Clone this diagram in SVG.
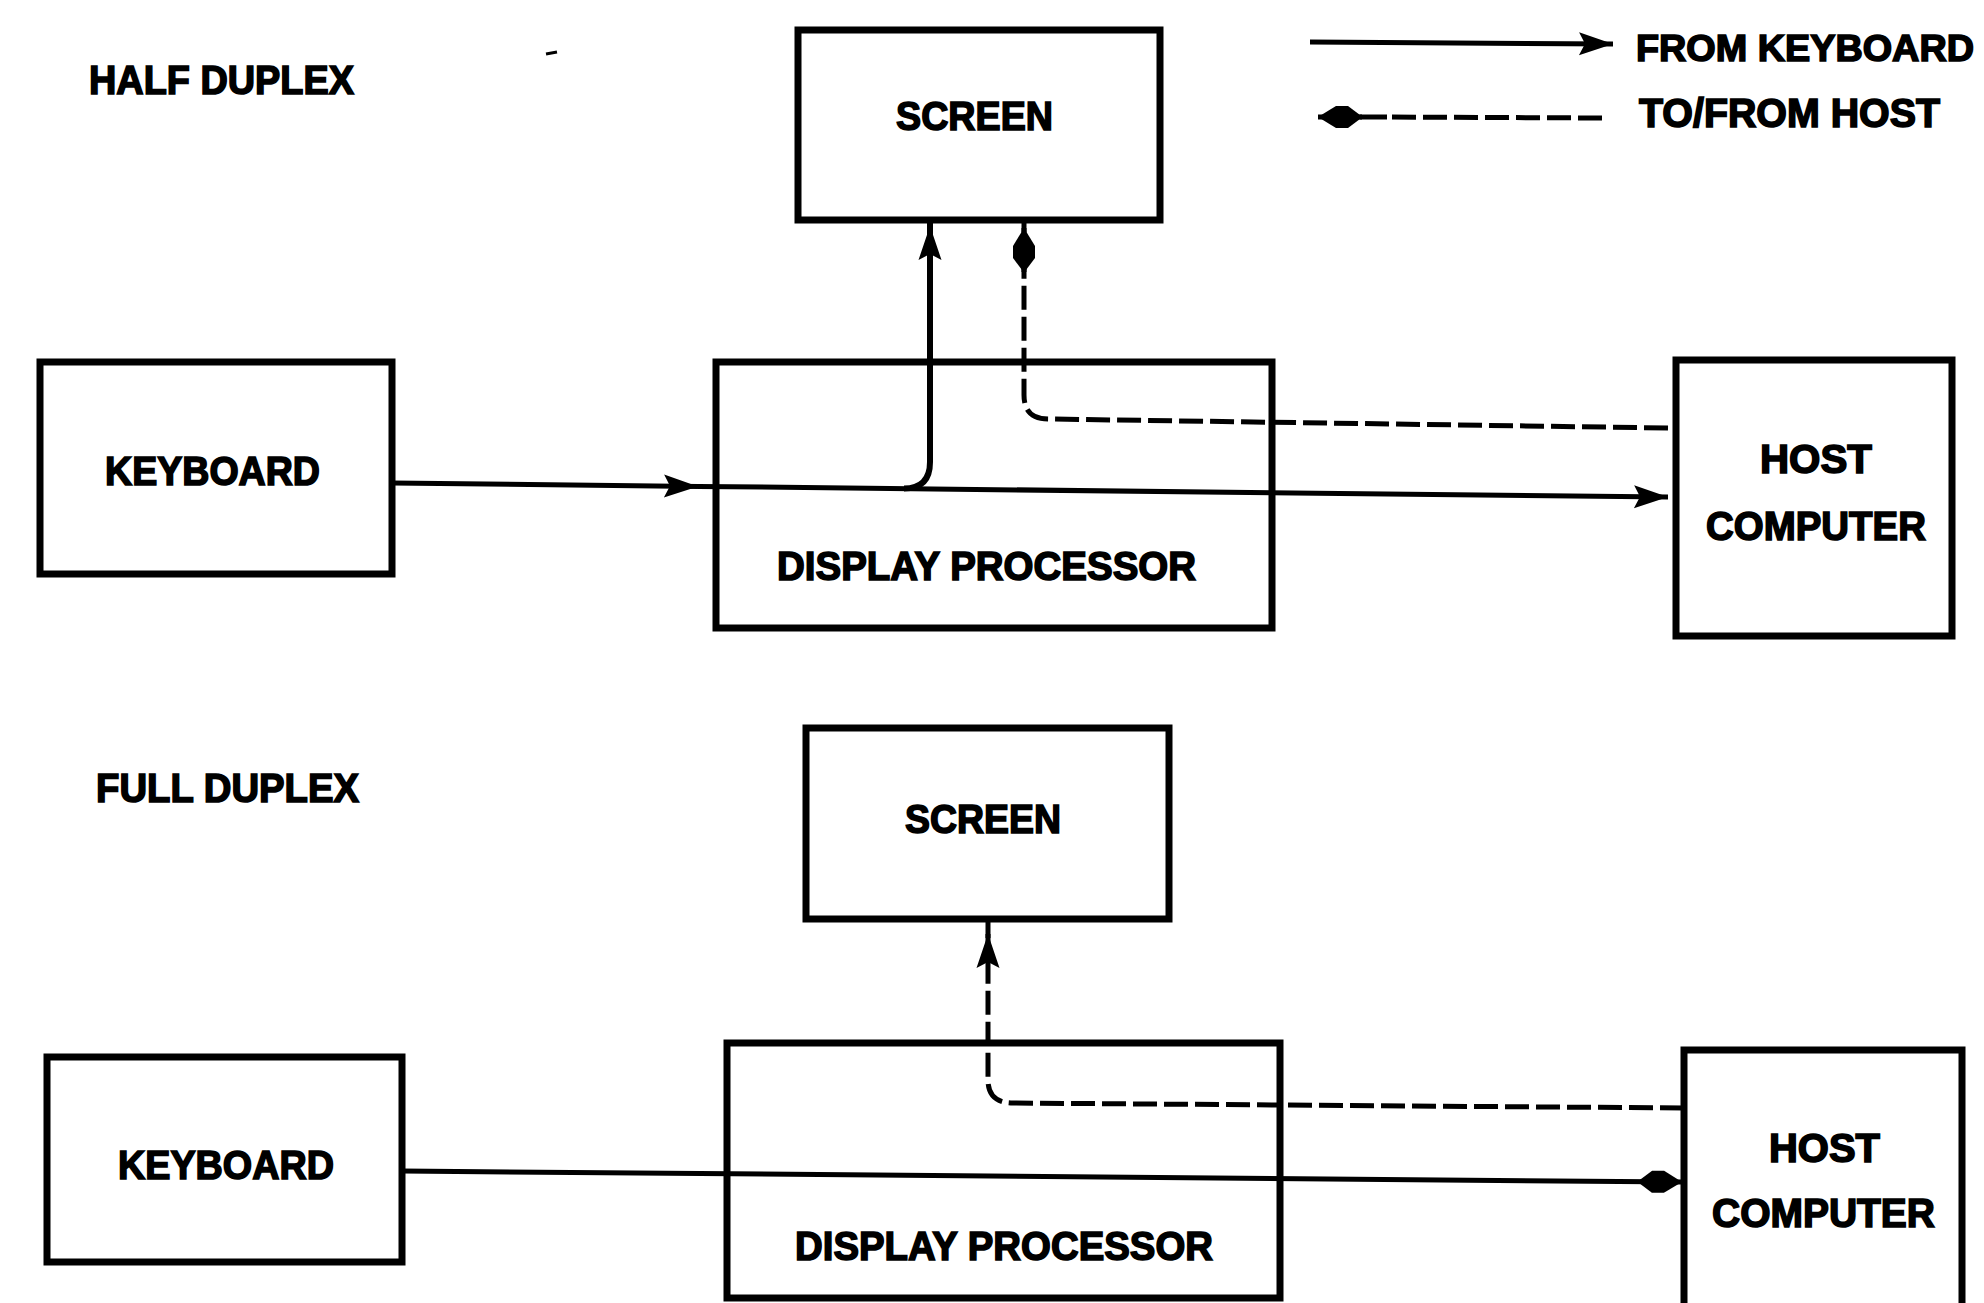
<svg xmlns="http://www.w3.org/2000/svg" width="1984" height="1303" viewBox="0 0 1984 1303">
<style>
  .box { fill: none; stroke: #000; stroke-width: 7; stroke-linejoin: miter; }
  .lbl { font-family: "Liberation Sans", Arial, sans-serif; font-weight: bold; font-size: 40px; fill: #000; stroke: #000; stroke-width: 1.6; }
  .solid { fill: none; stroke: #000; stroke-width: 5; }
  .vsolid { fill: none; stroke: #000; stroke-width: 6; }
  .dash { fill: none; stroke: #000; stroke-width: 5; stroke-dasharray: 24 7; }
</style>
<defs>
  <marker id="arrow" viewBox="-38 -14 40 28" refX="0" refY="0" markerWidth="40" markerHeight="28" markerUnits="userSpaceOnUse" orient="auto">
    <path d="M0,0 L-34,-11.5 L-28,0 L-34,11.5 Z" fill="#000"/>
  </marker>
  <marker id="bulb" viewBox="-46 -14 48 28" refX="0" refY="0" markerWidth="48" markerHeight="28" markerUnits="userSpaceOnUse" orient="auto">
    <path d="M0,0 L-18,-11 L-30,-11 L-42,-2 L-42,2 L-30,11 L-18,11 Z" fill="#000"/>
  </marker>
</defs>
<rect width="1984" height="1303" fill="#fff"/>

<!-- titles -->
<text class="lbl" x="89" y="94" textLength="265" lengthAdjust="spacingAndGlyphs">HALF DUPLEX</text>
<text class="lbl" x="96" y="802" textLength="263" lengthAdjust="spacingAndGlyphs">FULL DUPLEX</text>
<line x1="546" y1="54" x2="557" y2="52" stroke="#000" stroke-width="3"/>

<!-- legend -->
<g id="legend">
  <line class="solid" x1="1310" y1="42" x2="1613" y2="44" marker-end="url(#arrow)"/>
  <text class="lbl" x="1636" y="61" style="font-size:37.5px" textLength="338" lengthAdjust="spacingAndGlyphs">FROM KEYBOARD</text>
  <line class="solid" x1="1360" y1="117" x2="1387" y2="117"/>
  <line class="dash" x1="1602" y1="118" x2="1387" y2="117"/>
  <line class="solid" x1="1362" y1="117" x2="1318" y2="117" marker-end="url(#bulb)"/>
  <text class="lbl" x="1639" y="127" textLength="301" lengthAdjust="spacingAndGlyphs">TO/FROM HOST</text>
</g>

<!-- half duplex nodes -->
<g id="screen1">
  <rect class="box" x="798" y="30" width="362" height="190"/>
  <text class="lbl" x="896" y="130" textLength="157" lengthAdjust="spacingAndGlyphs">SCREEN</text>
</g>
<g id="keyboard1">
  <rect class="box" x="40" y="362" width="352" height="212"/>
  <text class="lbl" x="105" y="485" textLength="215" lengthAdjust="spacingAndGlyphs">KEYBOARD</text>
</g>
<g id="processor1">
  <rect class="box" x="716" y="362" width="556" height="266"/>
  <text class="lbl" x="777" y="580" textLength="419" lengthAdjust="spacingAndGlyphs">DISPLAY PROCESSOR</text>
</g>
<g id="host1">
  <rect class="box" x="1676" y="360" width="276" height="276"/>
  <text class="lbl" x="1760" y="473" textLength="112" lengthAdjust="spacingAndGlyphs">HOST</text>
  <text class="lbl" x="1706" y="540" textLength="220" lengthAdjust="spacingAndGlyphs">COMPUTER</text>
</g>

<!-- full duplex nodes -->
<g id="screen2">
  <rect class="box" x="806" y="728" width="363" height="191"/>
  <text class="lbl" x="905" y="833" textLength="156" lengthAdjust="spacingAndGlyphs">SCREEN</text>
</g>
<g id="keyboard2">
  <rect class="box" x="47" y="1057" width="355" height="205"/>
  <text class="lbl" x="118" y="1179" textLength="216" lengthAdjust="spacingAndGlyphs">KEYBOARD</text>
</g>
<g id="processor2">
  <rect class="box" x="727" y="1043" width="553" height="255"/>
  <text class="lbl" x="795" y="1260" textLength="418" lengthAdjust="spacingAndGlyphs">DISPLAY PROCESSOR</text>
</g>
<g id="host2">
  <rect class="box" x="1684" y="1050" width="278" height="280"/>
  <text class="lbl" x="1769" y="1162" textLength="111" lengthAdjust="spacingAndGlyphs">HOST</text>
  <text class="lbl" x="1712" y="1227" textLength="223" lengthAdjust="spacingAndGlyphs">COMPUTER</text>
</g>

<!-- connectors -->
<g id="connectors">
  <path class="solid" d="M392,483 L698,486.4" marker-end="url(#arrow)"/>
  <path class="solid" d="M698,486.4 L1668,497" marker-end="url(#arrow)"/>
  <path class="vsolid" d="M904,488.5 Q930,488.5 930,462 L930,226" marker-end="url(#arrow)"/>
  <path class="vsolid" d="M930,232 L930,220"/>
  <path class="dash" d="M1668,428 L1048,419 Q1024,419 1024,395 L1024,268"/>
  <path class="solid" d="M1024,272 L1024,228" marker-end="url(#bulb)"/>
  <path class="solid" d="M1024,232 L1024,220"/>

  <path class="solid" d="M402,1171 L1682,1182" marker-end="url(#bulb)"/>
  <path class="dash" d="M1684,1108 L1013,1103 Q988,1103 988,1080 L988,934" marker-end="url(#arrow)"/>
  <path class="solid" d="M988,938 L988,919"/>
</g>
</svg>
